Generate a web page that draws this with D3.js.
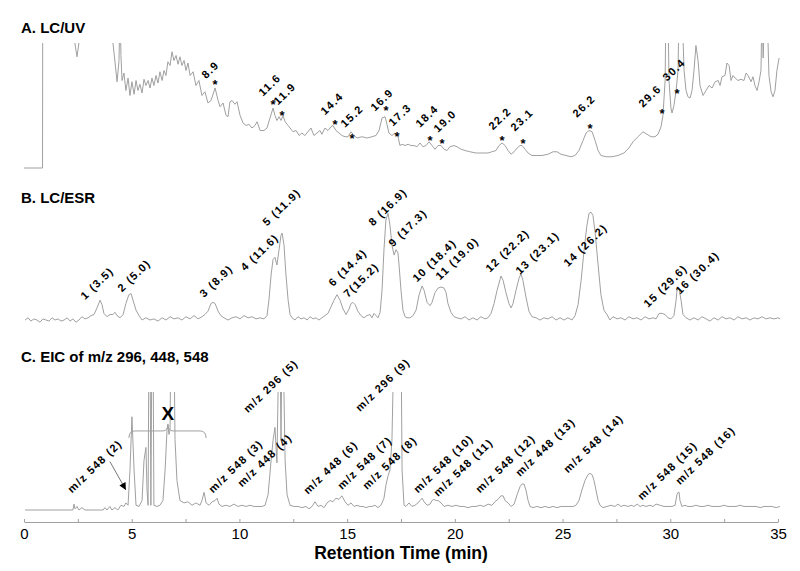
<!DOCTYPE html>
<html lang="en">
<head>
<meta charset="utf-8">
<script src="https://d3js.org/d3.v7.min.js"></script>
<style>
  body { margin: 0; background: #fff; }
  svg { display: block; font-family: "Liberation Sans", Arial, sans-serif; }
  .trace { fill: none; stroke: #a0a0a0; stroke-width: 1; }
  .title { font-size: 15px; font-weight: bold; }
  .peak { font-size: 11px; font-weight: bold; letter-spacing: 1.3px; }
  .axis path, .axis line { stroke: #a0a0a0; }
  .axis text { font-size: 15px; fill: #000; }
</style>
</head>
<body>
<div id="chart"></div>
<script>
// retention time (min), signal (% of panel height, >100 is off scale)
var uvTrace = [[0,0],[0.86,0],[0.87,130],[2.32,130],[2.36,100],[2.46,89],[2.55,100],[2.60,130],[4.08,130],[4.13,100],[4.32,69],[4.41,86],[4.46,130],[4.50,90],[4.55,70],[4.64,76],[4.73,62],[4.83,72],[4.92,58],[5.01,69],[5.11,59],[5.20,70],[5.29,62],[5.38,67],[5.48,60],[5.57,71],[5.66,66],[5.76,70],[5.85,64],[5.94,72],[6.03,66],[6.13,74],[6.22,68],[6.31,77],[6.41,70],[6.50,78],[6.59,74],[6.68,85],[6.78,82],[6.87,93],[6.96,86],[7.06,90],[7.15,83],[7.24,89],[7.33,82],[7.43,86],[7.52,78],[7.61,84],[7.71,74],[7.85,77],[7.98,66],[8.12,70],[8.26,58],[8.40,61],[8.54,52],[8.68,54],[8.87,64],[9.01,54],[9.10,49],[9.24,52],[9.38,42],[9.47,41],[9.56,53],[9.66,54],[9.79,51],[9.89,53],[10.03,42],[10.17,36],[10.31,34],[10.44,35],[10.58,32],[10.72,34],[10.82,37],[10.96,30],[11.14,30],[11.28,32],[11.42,40],[11.56,48],[11.65,42],[11.74,38],[11.84,41],[11.93,38],[12.02,42],[12.12,37],[12.26,34],[12.35,32],[12.49,29],[12.63,30],[12.77,26],[12.90,28],[13.04,26],[13.18,29],[13.32,32],[13.46,26],[13.60,28],[13.74,30],[13.83,27],[13.97,32],[14.11,30],[14.25,33],[14.34,34],[14.48,30],[14.62,28],[14.76,26],[14.90,25],[15.04,25],[15.18,29],[15.32,26],[15.46,24],[15.69,25],[15.92,24],[16.15,25],[16.34,26],[16.48,30],[16.62,40],[16.76,41],[16.85,35],[16.94,28],[17.08,26],[17.22,28],[17.36,25],[17.45,18],[17.55,19],[17.69,18],[17.83,19],[17.96,18],[18.10,18],[18.24,17],[18.38,20],[18.52,17],[18.66,18],[18.80,21],[18.94,18],[19.08,15],[19.22,18],[19.36,18],[19.50,15],[19.64,14],[19.77,17],[19.96,18],[20.10,17],[20.29,15],[20.47,14],[20.70,13],[20.98,12],[21.26,12],[21.54,12],[21.72,13],[21.91,14],[22.05,18],[22.19,20],[22.33,18],[22.47,14],[22.61,11],[22.75,13],[22.89,16],[23.03,18],[23.12,18],[23.26,15],[23.40,12],[23.58,10],[23.81,10],[24.05,10],[24.32,11],[24.56,13],[24.74,13],[24.93,11],[25.16,10],[25.39,9],[25.58,10],[25.76,14],[25.95,22],[26.09,28],[26.23,30],[26.37,29],[26.51,22],[26.65,14],[26.78,10],[27.02,9],[27.29,9],[27.57,10],[27.85,12],[28.08,16],[28.27,21],[28.50,25],[28.73,29],[28.92,27],[29.11,25],[29.29,25],[29.43,27],[29.57,33],[29.66,42],[29.76,70],[29.80,130],[29.89,130],[29.94,70],[30.03,48],[30.08,44],[30.17,50],[30.27,62],[30.36,78],[30.41,130],[30.54,130],[30.64,78],[30.73,62],[30.82,57],[30.92,56],[31.01,62],[31.10,78],[31.19,98],[31.29,86],[31.38,66],[31.52,58],[31.66,62],[31.80,66],[31.94,64],[32.08,69],[32.22,70],[32.31,66],[32.40,73],[32.54,74],[32.63,84],[32.73,82],[32.82,70],[32.91,74],[33.01,72],[33.14,70],[33.28,71],[33.42,70],[33.52,76],[33.61,74],[33.75,69],[33.84,73],[33.93,66],[34.03,62],[34.12,69],[34.21,78],[34.26,130],[34.31,88],[34.40,130],[34.49,130],[34.58,74],[34.68,61],[34.77,57],[34.86,62],[34.95,78],[35.05,88]];

var esrTrace = [[0.05,0],[0.19,2],[0.32,-1],[0.46,1],[0.60,0],[0.74,-2],[0.88,1],[1.02,0],[1.16,-1],[1.30,2],[1.44,0],[1.58,1],[1.72,-1],[1.86,0],[2.00,2],[2.14,-1],[2.27,1],[2.41,-2],[2.55,0],[2.69,3],[2.83,1],[2.97,2],[3.11,4],[3.25,5],[3.39,11],[3.53,18],[3.62,14],[3.71,6],[3.85,3],[3.99,5],[4.13,5],[4.22,7],[4.32,4],[4.46,2],[4.60,5],[4.73,15],[4.87,23],[4.97,24],[5.06,18],[5.20,9],[5.34,4],[5.48,0],[5.66,2],[5.85,0],[6.03,1],[6.22,-1],[6.41,2],[6.59,0],[6.78,3],[6.96,1],[7.15,2],[7.33,0],[7.52,3],[7.71,1],[7.89,4],[8.08,1],[8.26,3],[8.40,5],[8.54,8],[8.68,15],[8.77,16],[8.87,15],[9.01,8],[9.14,4],[9.28,2],[9.47,0],[9.66,2],[9.84,3],[10.03,1],[10.21,4],[10.40,2],[10.58,3],[10.77,1],[10.96,2],[11.14,1],[11.28,4],[11.37,18],[11.47,41],[11.56,55],[11.65,57],[11.74,50],[11.84,64],[11.93,77],[11.98,79],[12.07,68],[12.16,41],[12.26,18],[12.35,5],[12.44,2],[12.58,0],[12.72,3],[12.86,1],[13.00,2],[13.14,0],[13.28,3],[13.42,1],[13.55,2],[13.69,0],[13.83,2],[13.97,4],[14.11,6],[14.25,12],[14.39,18],[14.53,23],[14.67,18],[14.81,10],[14.95,5],[15.09,10],[15.18,15],[15.27,16],[15.37,14],[15.50,8],[15.64,4],[15.78,2],[15.92,4],[16.06,5],[16.15,2],[16.25,6],[16.34,4],[16.43,2],[16.53,7],[16.62,27],[16.71,64],[16.80,91],[16.90,97],[16.99,86],[17.08,68],[17.18,59],[17.27,64],[17.36,61],[17.41,50],[17.50,27],[17.59,9],[17.69,3],[17.78,2],[17.92,2],[18.06,4],[18.20,9],[18.34,23],[18.48,31],[18.57,27],[18.71,16],[18.85,13],[18.94,16],[19.08,25],[19.22,29],[19.36,30],[19.50,29],[19.59,25],[19.68,15],[19.82,7],[19.96,3],[20.10,2],[20.29,1],[20.47,3],[20.66,0],[20.84,2],[21.03,0],[21.21,3],[21.40,1],[21.54,2],[21.68,6],[21.82,15],[21.96,27],[22.10,37],[22.14,40],[22.24,36],[22.37,25],[22.51,15],[22.61,11],[22.70,15],[22.84,27],[22.98,38],[23.07,42],[23.16,36],[23.30,21],[23.44,8],[23.58,3],[23.77,2],[23.95,0],[24.14,2],[24.32,1],[24.51,3],[24.70,0],[24.88,2],[25.07,0],[25.25,2],[25.44,0],[25.58,4],[25.72,14],[25.86,36],[26.00,64],[26.13,86],[26.23,97],[26.32,98],[26.41,95],[26.51,80],[26.65,50],[26.78,23],[26.92,9],[27.06,5],[27.20,0],[27.34,3],[27.53,1],[27.71,2],[27.90,0],[28.08,3],[28.27,1],[28.46,2],[28.64,0],[28.83,3],[29.01,1],[29.20,2],[29.34,1],[29.48,6],[29.62,6],[29.76,5],[29.89,2],[30.03,1],[30.17,4],[30.27,18],[30.31,27],[30.41,28],[30.50,18],[30.59,5],[30.73,2],[30.92,0],[31.10,2],[31.29,0],[31.47,3],[31.66,1],[31.84,-1],[32.03,2],[32.22,0],[32.40,3],[32.59,1],[32.77,2],[32.96,0],[33.14,3],[33.33,1],[33.52,2],[33.70,0],[33.89,2],[34.07,1],[34.26,3],[34.44,1],[34.63,2],[34.82,1],[35.00,2],[35.10,1]];

var eicTrace = [[0.05,0],[2.23,0],[2.27,0],[2.32,5],[2.37,1],[2.46,3],[2.55,0],[2.69,2],[2.83,0],[3.30,0],[3.67,0],[3.76,2],[3.85,0],[3.99,3],[4.08,0],[4.22,2],[4.36,0],[4.50,4],[4.64,3],[4.73,6],[4.83,4],[4.92,34],[5.01,79],[5.11,34],[5.20,4],[5.34,3],[5.48,8],[5.57,42],[5.66,53],[5.71,17],[5.76,4],[5.80,150],[5.85,150],[5.89,4],[5.94,150],[5.99,150],[6.03,4],[6.17,3],[6.31,4],[6.45,8],[6.55,34],[6.64,68],[6.68,72],[6.73,64],[6.78,68],[6.82,150],[6.96,150],[7.01,60],[7.10,25],[7.24,8],[7.43,6],[7.61,7],[7.80,4],[7.98,6],[8.17,4],[8.26,8],[8.36,15],[8.45,6],[8.59,4],[8.73,7],[8.87,8],[8.96,10],[9.05,5],[9.19,3],[9.38,4],[9.56,3],[9.75,5],[9.93,3],[10.12,4],[10.31,3],[10.49,4],[10.68,3],[10.86,3],[11.05,3],[11.19,4],[11.33,13],[11.47,42],[11.56,59],[11.65,70],[11.74,40],[11.84,150],[11.88,150],[11.93,59],[11.98,150],[12.02,150],[12.12,42],[12.21,13],[12.35,4],[12.53,3],[12.72,3],[12.90,2],[13.09,3],[13.23,1],[13.37,3],[13.51,7],[13.65,3],[13.79,4],[13.93,2],[14.07,6],[14.20,8],[14.34,7],[14.48,10],[14.62,9],[14.76,12],[14.90,7],[15.04,4],[15.18,6],[15.32,3],[15.46,4],[15.60,3],[15.74,3],[15.88,2],[16.02,3],[16.15,3],[16.29,4],[16.43,2],[16.57,4],[16.71,10],[16.80,21],[16.90,29],[16.99,34],[17.08,59],[17.18,150],[17.50,150],[17.55,34],[17.64,4],[17.73,3],[17.87,6],[18.01,3],[18.15,4],[18.29,6],[18.38,8],[18.48,10],[18.57,7],[18.71,4],[18.85,5],[18.94,8],[19.03,9],[19.13,8],[19.22,8],[19.36,6],[19.50,3],[19.68,4],[19.87,3],[20.05,4],[20.24,3],[20.42,3],[20.61,2],[20.80,3],[20.98,3],[21.17,4],[21.35,3],[21.54,5],[21.72,4],[21.86,7],[22.00,9],[22.14,12],[22.24,12],[22.33,8],[22.47,6],[22.61,3],[22.75,5],[22.89,13],[23.03,20],[23.12,22],[23.21,22],[23.30,17],[23.40,8],[23.49,3],[23.63,2],[23.81,3],[24.00,2],[24.19,3],[24.37,2],[24.56,3],[24.74,2],[24.93,3],[25.11,3],[25.30,3],[25.49,3],[25.62,4],[25.76,8],[25.90,17],[26.04,25],[26.18,30],[26.27,31],[26.37,30],[26.46,25],[26.55,17],[26.65,8],[26.74,4],[26.88,2],[27.06,3],[27.25,4],[27.43,3],[27.57,5],[27.71,3],[27.85,4],[28.04,3],[28.18,4],[28.32,3],[28.46,5],[28.60,3],[28.73,4],[28.87,3],[29.06,4],[29.20,3],[29.34,5],[29.52,4],[29.71,3],[29.89,3],[30.08,3],[30.22,4],[30.31,13],[30.36,15],[30.41,15],[30.45,8],[30.54,3],[30.68,4],[30.82,3],[31.01,3],[31.19,4],[31.38,3],[31.57,3],[31.75,4],[31.94,3],[32.12,3],[32.31,3],[32.49,4],[32.68,3],[32.87,3],[33.05,3],[33.24,4],[33.42,3],[33.61,3],[33.79,3],[33.98,3],[34.17,2],[34.35,3],[34.54,3],[34.72,3],[34.91,2],[35.09,3]];

// panel A: asterisk marks and their retention-time labels
var uvMarkLabel = ["8.9","11.6","11.9","14.4","15.2","16.9","17.3","18.4","19.0","22.2","23.1","26.2","29.6","30.4"];
var uvMarkTime  = [8.87, 11.56, 11.98, 14.44, 15.23, 16.80, 17.31, 18.85, 19.40, 22.19, 23.16, 26.27, 29.62, 30.31];
var uvMarkLevel = [69, 53, 44, 37, 26, 48, 27, 24, 22, 24, 22, 34, 46, 62];
var uvLabelTime  = [8.45, 11.09, 11.79, 13.97, 14.90, 16.29, 17.13, 18.38, 19.22, 21.77, 22.79, 25.67, 28.73, 29.85];
var uvLabelLevel = [71, 57, 50, 42, 32, 45, 33, 32, 28, 30, 29, 40, 48, 69];

// panel B: peak numbers
var esrLabel = ["1 (3.5)","2 (5.0)","3 (8.9)","4 (11.6)","5 (11.9)","6 (14.4)","7(15.2)","8 (16.9)","9 (17.3)","10 (18.4)","11 (19.0)","12 (22.2)","13 (23.1)","14 (26.2)","15 (29.6)","16 (30.4)"];
var esrLabelTime  = [2.83, 4.55, 8.36, 10.26, 11.28, 14.34, 15.04, 16.20, 17.13, 18.24, 19.31, 21.63, 23.02, 25.25, 28.97, 30.45];
var esrLabelLevel = [18, 25, 20, 44, 85, 30, 20, 85, 66, 34, 36, 43, 41, 48, 11, 23];

// panel C: ion labels
var eicLabel = ["m/z 548 (2)","m/z 548 (3)","m/z 448 (4)","m/z 296 (5)","m/z 448 (6)","m/z 548 (7)","m/z 548 (8)","m/z 296 (9)","m/z 548 (10)","m/z 548 (11)","m/z 548 (12)","m/z 448 (13)","m/z 548 (14)","m/z 548 (15)","m/z 548 (16)"];
var eicLabelTime  = [2.23, 8.77, 10.12, 10.40, 13.18, 14.76, 15.92, 15.60, 18.29, 19.22, 21.17, 23.02, 25.25, 28.69, 30.45];
var eicLabelLevel = [14, 14, 19, 82, 13, 17, 17, 83, 14, 11, 14, 28, 31, 8, 21];

// bracket over the interfering peaks "X" and the arrow to peak 2
var bracketTime = [4.87, 6.68, 8.45];
var bracketLevel = 67;
var arrowTime = [3.99, 4.73];
var arrowLevel = [41, 17];

var xTicks = d3.range(0, 35.01, 2.5);

var width = 800, height = 571;

var x = d3.scaleLinear().domain([0, 35]).range([24, 778]);
var yA = d3.scaleLinear().domain([0, 100]).range([168, 43]);
var yB = d3.scaleLinear().domain([0, 100]).range([320, 210]);
var yC = d3.scaleLinear().domain([0, 100]).range([510, 392]);

var svg = d3.select('#chart')
  .append('svg')
  .attr('width', width)
  .attr('height', height);

var defs = svg.append('defs');
defs.append('clipPath').attr('id', 'clipA')
  .append('rect').attr('x', 0).attr('y', yA(100)).attr('width', width).attr('height', 140);
defs.append('clipPath').attr('id', 'clipC')
  .append('rect').attr('x', 0).attr('y', yC(100)).attr('width', width).attr('height', 130);
defs.append('marker')
  .attr('id', 'head')
  .attr('viewBox', '0 0 10 10')
  .attr('refX', 10).attr('refY', 5)
  .attr('markerWidth', 9).attr('markerHeight', 7)
  .attr('markerUnits', 'userSpaceOnUse')
  .attr('orient', 'auto')
  .append('path').attr('d', 'M0,0L10,5L0,10Z').attr('fill', '#000');

function drawTrace(data, y, clip) {
  var line = d3.line()
    .x(function (d) { return x(d[0]); })
    .y(function (d) { return y(d[1]); });
  var p = svg.append('path')
    .datum(data)
    .attr('class', 'trace')
    .attr('d', line);
  if (clip) p.attr('clip-path', 'url(#' + clip + ')');
}

drawTrace(uvTrace, yA, 'clipA');
drawTrace(esrTrace, yB, null);
drawTrace(eicTrace, yC, 'clipC');

// panel titles
var titles = [['A. LC/UV', 33], ['B. LC/ESR', 203], ['C. EIC of m/z 296, 448, 548', 362]];
svg.selectAll('.title')
  .data(titles)
  .enter()
  .append('text')
  .attr('class', 'title')
  .attr('x', 21)
  .attr('y', function (d) { return d[1]; })
  .text(function (d) { return d[0]; });

function rotatedLabels(labels, times, levels, y) {
  svg.append('g')
    .selectAll('text')
    .data(labels)
    .enter()
    .append('text')
    .attr('class', 'peak')
    .attr('transform', function (d, i) {
      return 'translate(' + x(times[i]) + ',' + y(levels[i]) + ') rotate(-44)';
    })
    .text(function (d) { return d; });
}

// asterisks in A
svg.append('g')
  .selectAll('text')
  .data(uvMarkTime)
  .enter()
  .append('text')
  .attr('class', 'peak')
  .attr('text-anchor', 'middle')
  .attr('x', function (d) { return x(d); })
  .attr('y', function (d, i) { return yA(uvMarkLevel[i]) + 7; })
  .style('letter-spacing', '0px')
  .style('font-size', '13px')
  .text('*');

rotatedLabels(uvMarkLabel, uvLabelTime, uvLabelLevel, yA);
rotatedLabels(esrLabel, esrLabelTime, esrLabelLevel, yB);
rotatedLabels(eicLabel, eicLabelTime, eicLabelLevel, yC);

// brace with X
var bx0 = x(bracketTime[0]), bxm = x(bracketTime[1]), bx1 = x(bracketTime[2]);
var by = yC(bracketLevel);
svg.append('path')
  .attr('class', 'trace')
  .attr('d', 'M' + bx0 + ',' + (by + 7) + 'Q' + bx0 + ',' + by + ' ' + (bx0 + 6) + ',' + by +
    'L' + (bxm - 5) + ',' + by + 'Q' + bxm + ',' + by + ' ' + bxm + ',' + (by - 7) +
    'Q' + bxm + ',' + by + ' ' + (bxm + 5) + ',' + by +
    'L' + (bx1 - 6) + ',' + by + 'Q' + bx1 + ',' + by + ' ' + bx1 + ',' + (by + 7));
svg.append('text')
  .attr('x', bxm)
  .attr('y', by - 11)
  .attr('text-anchor', 'middle')
  .style('font-size', '19px')
  .style('font-weight', 'bold')
  .text('X');

svg.append('line')
  .attr('x1', x(arrowTime[0])).attr('y1', yC(arrowLevel[0]))
  .attr('x2', x(arrowTime[1])).attr('y2', yC(arrowLevel[1]))
  .attr('stroke', '#555')
  .attr('stroke-width', 0.8)
  .attr('marker-end', 'url(#head)');

// time axis
var axis = svg.append('g')
  .attr('class', 'axis')
  .attr('transform', 'translate(0,522)')
  .call(d3.axisBottom(x)
    .tickValues(xTicks)
    .tickSize(-3)
    .tickSizeOuter(0)
    .tickFormat(function (d) { return d % 5 === 0 ? d : ''; }));
axis.selectAll('text').attr('y', 6);
axis.select('.domain').attr('stroke', '#a0a0a0');

svg.append('text')
  .attr('x', (x(0) + x(35)) / 2)
  .attr('y', 559)
  .attr('text-anchor', 'middle')
  .style('font-size', '17.5px')
  .style('font-weight', 'bold')
  .text('Retention Time (min)');
</script>
</body>
</html>
